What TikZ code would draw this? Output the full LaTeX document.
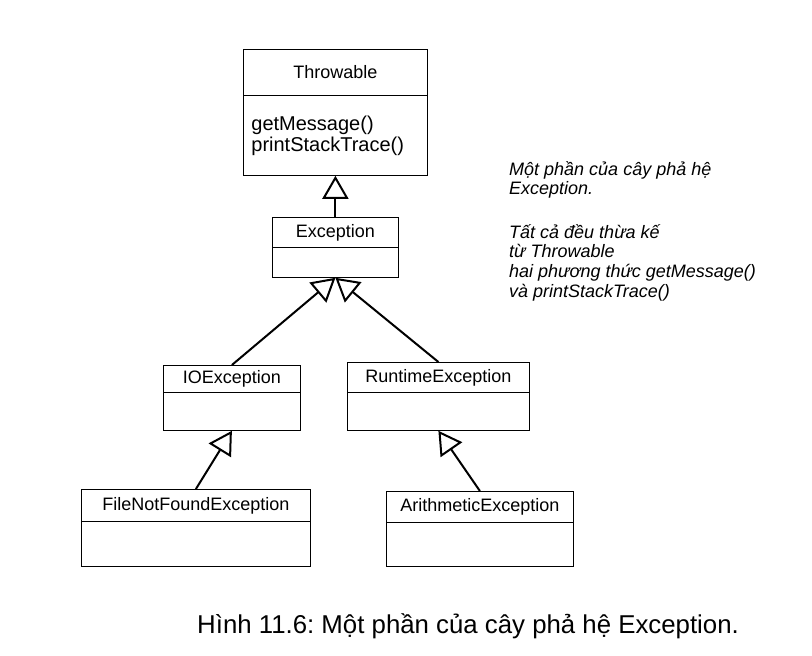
\documentclass[tikz,border=0pt]{standalone}
\usepackage{fontspec}
\setmainfont{Liberation Sans}
\usetikzlibrary{arrows.meta}
\frenchspacing
\begin{document}
\begin{tikzpicture}[x=1pt,y=-1pt,
  hdr/.style={draw,line width=0.8pt,anchor=north west,inner sep=0pt,font=\fontsize{18}{20}\selectfont},
  bdy/.style={draw,line width=0.8pt,anchor=north west,inner sep=0pt},
  inh/.style={line width=2pt,-{Triangle[open,length=23pt,width=26pt,line width=2pt]}},
  note/.style={anchor=north west,inner sep=0pt,align=left,font=\fontsize{18}{19.6}\selectfont\itshape},
  captext/.style={anchor=base west,inner sep=0pt,font=\fontsize{25.8}{28}\selectfont}]
\useasboundingbox (0,0) rectangle (812,656);
% Throwable
\node[hdr,minimum width=184pt,minimum height=46pt] (thr) at (243,49) {Throwable};
\node[bdy,minimum width=184pt,minimum height=80pt,text width=168pt,inner xsep=8pt,align=left,
  font=\fontsize{20}{21}\selectfont] (thrb) at (243,95) {getMessage()\\printStackTrace()};
% Exception
\node[hdr,minimum width=126pt,minimum height=30pt] (exc) at (272,217) {Exception};
\node[bdy,minimum width=126pt,minimum height=30pt] (excb) at (272,247) {};
% IOException
\node[hdr,minimum width=137pt,minimum height=27pt] (io) at (163,365) {IOException};
\node[bdy,minimum width=137pt,minimum height=38pt] (iob) at (163,392) {};
% RuntimeException
\node[hdr,minimum width=182pt,minimum height=30pt] (rt) at (347,362) {RuntimeException};
\node[bdy,minimum width=182pt,minimum height=38pt] (rtb) at (347,392) {};
% FileNotFoundException
\node[hdr,minimum width=229pt,minimum height=32pt] (fnf) at (81,489) {FileNotFoundException};
\node[bdy,minimum width=229pt,minimum height=45pt] (fnfb) at (81,521) {};
% ArithmeticException
\node[hdr,minimum width=187pt,minimum height=31pt] (ar) at (386,491) {ArithmeticException};
\node[bdy,minimum width=187pt,minimum height=44pt] (arb) at (386,522) {};
% inheritance
\draw[inh] (exc.north) -- (thrb.south);
\draw[inh] (io.north) -- (excb.south);
\draw[inh] (rt.north) -- (excb.south);
\draw[inh] (fnf.north) -- (iob.south);
\draw[inh] (ar.north) -- (rtb.south);
% note
\node[note] (nt) at (509,161) {Một phần của cây phả hệ\\Exception.\\[24pt]Tất cả đều thừa kế\\từ Throwable\\hai phương thức getMessage()\\và printStackTrace()};
% caption
\node[captext] (cp) at (197,633) {Hình 11.6: Một phần của cây phả hệ Exception.};
\end{tikzpicture}
\end{document}
